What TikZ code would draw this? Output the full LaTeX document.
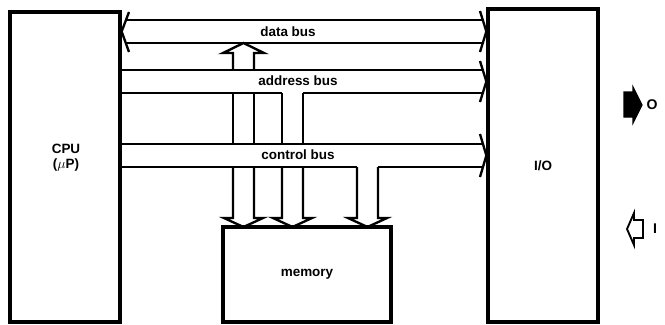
\documentclass[tikz,border=0pt]{standalone}
\usepackage{fontspec}
\setmainfont{Liberation Sans}
\usepackage{tikz}

\tikzset{
  unit/.style={draw, line width=2.8pt, inner sep=0pt, align=center},
  txt/.style={font=\bfseries\fontsize{11.5}{13}\selectfont, inner sep=1pt},
  bus/.style={line width=2pt},
}

\begin{document}
\begin{tikzpicture}[x=0.03cm, y=-0.03cm, line join=miter]
  \useasboundingbox (0,0) rectangle (665,324);

  % units
  \node[unit, minimum width=3.3cm, minimum height=9.3cm] (cpu) at (65,167) {};
  \node[txt, align=center] (cpulbl) at (66,158) {CPU\\($\mu$P)};
  \node[unit, txt, minimum width=3.3cm, minimum height=9.39cm] (io) at (543,165.5) {I/O};
  \node[unit, txt, minimum width=5.04cm, minimum height=2.85cm] (mem) at (307,274.5) {memory};

  % data bus
  \draw[bus] (125,20) -- (484,20);
  \draw[bus] (125,43) -- (484,43);
  \draw[bus] (129,12) -- (cpu.east |- 0,31.5) -- (129,52);
  \draw[bus] (480,11) -- (io.west |- 0,31.5) -- (480,52);
  \node[txt] (data) at (288,32) {data bus};

  % address bus
  \draw[bus] (cpu.east |- 0,70) -- (484,70);
  \draw[bus] (cpu.east |- 0,93) -- (282,93);
  \draw[bus] (303,93) -- (484,93);
  \draw[bus] (480,61) -- (io.west |- 0,81.5) -- (480,102);
  \node[txt] (addr) at (298,81) {address bus};

  % control bus
  \draw[bus] (cpu.east |- 0,144) -- (484,144);
  \draw[bus] (cpu.east |- 0,167) -- (357,167);
  \draw[bus] (378,167) -- (484,167);
  \draw[bus] (480,134) -- (io.west |- 0,155.5) -- (480,177);
  \node[txt] (ctrl) at (298,155) {control bus};

  % memory to data bus
  \draw[bus] (233,70) -- (233,53) -- (223,53) -- (243.5,43) -- (264,53) -- (254,53) -- (254,70);

  % branches down to memory
  \foreach \a/\b in {233/254, 282/303}
    \draw[bus] (\a,93) -- (\a,144) (\b,93) -- (\b,144);
  \foreach \a/\b in {233/254, 282/303, 357/378}
    \draw[bus] (\a,167) -- (\a,218) -- ({\a-9},218) -- ({(\a+\b)/2},227)
      -- ({\b+9},218) -- (\b,218) -- (\b,167);

  % output and input
  \draw[fill=black, line width=1pt] (624,92) -- (633,92) -- (633,87) -- (642,105)
    -- (633,123) -- (633,117) -- (624,117) -- cycle;
  \node[txt, font=\bfseries\fontsize{12}{14}\selectfont] (out) at (652,105) {O};
  \draw[line width=1.6pt] (643,220) -- (634,220) -- (634,213) -- (627,229)
    -- (634,245) -- (634,238) -- (643,238) -- cycle;
  \node[txt, font=\bfseries\fontsize{12}{14}\selectfont] (in) at (655,229) {I};
\end{tikzpicture}
\end{document}
